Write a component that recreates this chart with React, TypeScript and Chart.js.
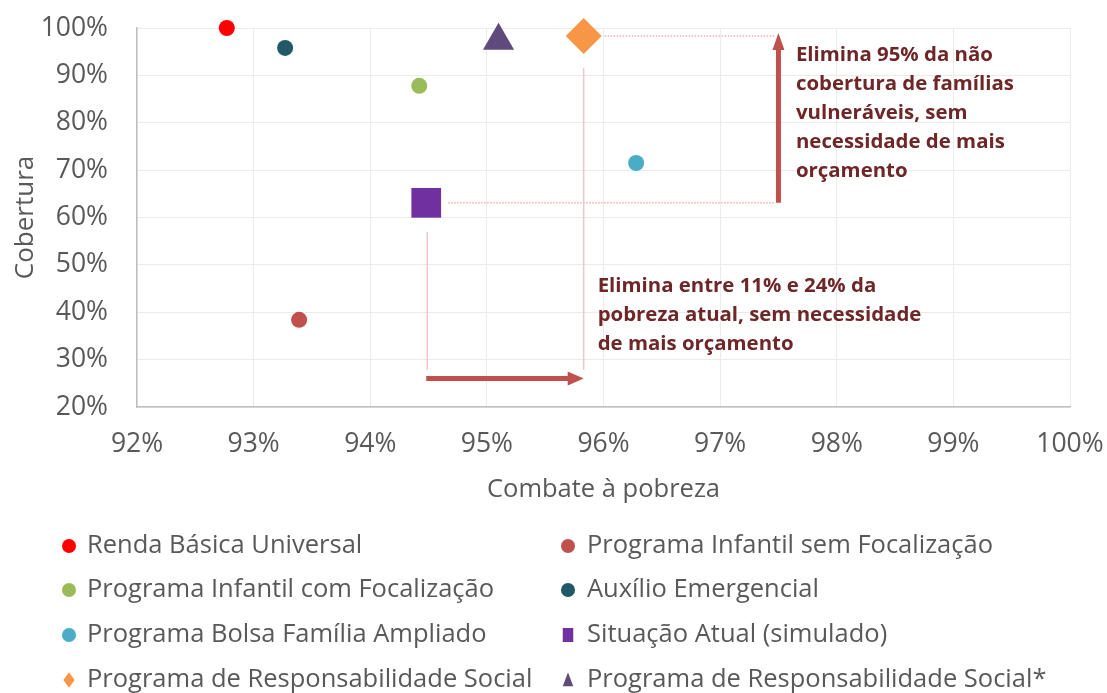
import React, { useEffect, useRef } from "react";
import { Chart, registerables } from "chart.js";

Chart.register(...registerables);

// ---------- data ----------
const SERIES_NAMES = [
  "Renda Básica Universal",
  "Programa Infantil sem Focalização",
  "Programa Infantil com Focalização",
  "Auxílio Emergencial",
  "Programa Bolsa Família Ampliado",
  "Situação Atual (simulado)",
  "Programa de Responsabilidade Social",
  "Programa de Responsabilidade Social*",
];
const COMBATE_POBREZA = [92.77, 93.39, 94.42, 93.27, 96.28, 94.48, 95.83, 95.1];
const COBERTURA = [100, 38.4, 87.8, 95.8, 71.5, 63.1, 98.3, 97.3];
const COLORS = ["#FF0000", "#C0504D", "#9BBB59", "#215968", "#4BACC6", "#7030A0", "#F79646", "#604A7B"];
const POINT_STYLES = ["circle", "circle", "circle", "circle", "circle", "rect", "rectRot", "triangle"];

const X_TICKS = [92, 93, 94, 95, 96, 97, 98, 99, 100];
const Y_TICKS = [20, 30, 40, 50, 60, 70, 80, 90, 100];
const X_TITLE = "Combate à pobreza";
const Y_TITLE = "Cobertura";

const NOTE_UP = ["Elimina 95% da não", "cobertura de famílias", "vulneráveis, sem", "necessidade de mais", "orçamento"];
const NOTE_RIGHT = ["Elimina entre 11% e 24% da", "pobreza atual, sem necessidade", "de mais orçamento"];
const BASE_INDEX = 5; // Situação Atual
const TARGET_INDEX = 6; // Programa de Responsabilidade Social
const ARROW_UP_X = 97.5;
const ARROW_RIGHT_Y = 26;
const GUIDE_BOTTOM_Y = 27.8;
const NOTE_UP_ANCHOR = [97.65, 94.3];
const NOTE_RIGHT_ANCHOR = [95.95, 45.6];

const FONT = "'Open Sans', 'Noto Sans', sans-serif";
const GRAY = "#595959";
const NOTE_COLOR = "#6E2627";

function markerPath(ctx: CanvasRenderingContext2D, style: string, x: number, y: number, r: number) {
  ctx.beginPath();
  if (style === "circle") {
    ctx.arc(x, y, r, 0, Math.PI * 2);
  } else if (style === "rect") {
    ctx.rect(x - r * 0.75, y - r, r * 1.5, r * 2);
  } else if (style === "rectRot") {
    ctx.moveTo(x, y - r * 1.1);
    ctx.lineTo(x + r * 0.8, y);
    ctx.lineTo(x, y + r * 1.1);
    ctx.lineTo(x - r * 0.8, y);
    ctx.closePath();
  } else if (style === "triangle") {
    ctx.moveTo(x, y - r * 1.1);
    ctx.lineTo(x + r * 0.75, y + r * 0.9);
    ctx.lineTo(x - r * 0.75, y + r * 0.9);
    ctx.closePath();
  }
}

const annotationPlugin = {
  id: "annotations",
  beforeDatasetsDraw(chart: any) {
    const { ctx, scales } = chart;
    const xs = scales.x;
    const ys = scales.y;
    const px = (v: number) => xs.getPixelForValue(v);
    const py = (v: number) => ys.getPixelForValue(v);
    const bx = px(COMBATE_POBREZA[BASE_INDEX]);
    const by = py(COBERTURA[BASE_INDEX]);
    const tx = px(COMBATE_POBREZA[TARGET_INDEX]);
    const ty = py(COBERTURA[TARGET_INDEX]);
    const ax = px(ARROW_UP_X);
    const ay = py(ARROW_RIGHT_Y);
    const gb = py(GUIDE_BOTTOM_Y);

    ctx.save();
    // dotted horizontal guides
    ctx.strokeStyle = "#F2AEB0";
    ctx.lineWidth = 1.5;
    ctx.setLineDash([1.5, 1.5]);
    ctx.beginPath();
    ctx.moveTo(bx + 22, by);
    ctx.lineTo(ax - 4, by);
    ctx.moveTo(tx + 21, ty);
    ctx.lineTo(ax - 4, ty);
    ctx.stroke();
    // solid vertical guides
    ctx.setLineDash([]);
    ctx.strokeStyle = "#F3C6C8";
    ctx.lineWidth = 1.5;
    ctx.beginPath();
    ctx.moveTo(tx, ty + 32);
    ctx.lineTo(tx, gb);
    ctx.moveTo(bx + 1, by + 29);
    ctx.lineTo(bx + 1, gb);
    ctx.stroke();

    // arrows
    ctx.strokeStyle = "#C0504D";
    ctx.fillStyle = "#C0504D";
    ctx.lineWidth = 5;
    // up arrow
    ctx.beginPath();
    ctx.moveTo(ax, by);
    ctx.lineTo(ax, ty + 12);
    ctx.stroke();
    ctx.beginPath();
    ctx.moveTo(ax, ty - 3);
    ctx.lineTo(ax + 6, ty + 14);
    ctx.lineTo(ax - 6, ty + 14);
    ctx.closePath();
    ctx.fill();
    // right arrow
    ctx.beginPath();
    ctx.moveTo(bx, ay);
    ctx.lineTo(tx - 12, ay);
    ctx.stroke();
    ctx.beginPath();
    ctx.moveTo(tx, ay);
    ctx.lineTo(tx - 16, ay - 7);
    ctx.lineTo(tx - 16, ay + 7);
    ctx.closePath();
    ctx.fill();

    // notes
    ctx.fillStyle = NOTE_COLOR;
    ctx.font = `bold 20.4px ${FONT}`;
    ctx.textBaseline = "middle";
    ctx.textAlign = "left";
    NOTE_UP.forEach((line, i) => {
      ctx.fillText(line, px(NOTE_UP_ANCHOR[0]), py(NOTE_UP_ANCHOR[1]) + i * 29);
    });
    NOTE_RIGHT.forEach((line, i) => {
      ctx.fillText(line, px(NOTE_RIGHT_ANCHOR[0]), py(NOTE_RIGHT_ANCHOR[1]) + i * 29);
    });
    ctx.restore();
  },
  afterDraw(chart: any) {
    const { ctx } = chart;
    ctx.save();
    ctx.font = `25.5px ${FONT}`;
    ctx.textBaseline = "middle";
    ctx.textAlign = "left";
    const colMarkerX = [69, 568];
    const colTextX = [87, 587];
    const rowY = [546, 590, 635, 680];
    chart.data.datasets.forEach((ds: any, i: number) => {
      const col = i % 2;
      const row = Math.floor(i / 2);
      const y = rowY[row];
      ctx.fillStyle = COLORS[i];
      markerPath(ctx, POINT_STYLES[i], colMarkerX[col], y, 7);
      ctx.fill();
      ctx.fillStyle = GRAY;
      ctx.fillText(ds.label, colTextX[col], y);
    });
    ctx.restore();
  },
};

export default function App() {
  const canvasRef = useRef<HTMLCanvasElement | null>(null);

  useEffect(() => {
    document.body.style.margin = "0";
    const canvas = canvasRef.current;
    if (!canvas) return;
    const datasets = SERIES_NAMES.map((name, i) => ({
      label: name,
      data: [{ x: COMBATE_POBREZA[i], y: COBERTURA[i] }],
      pointStyle: POINT_STYLES[i],
      pointRadius: POINT_STYLES[i] === "circle" ? 8 : POINT_STYLES[i] === "rect" ? 21 : 18,
      pointBackgroundColor: COLORS[i],
      pointBorderColor: COLORS[i],
      pointBorderWidth: 0,
      backgroundColor: COLORS[i],
      borderColor: COLORS[i],
      clip: false,
    }));
    const chart = new Chart(canvas, {
      type: "scatter",
      data: { datasets },
      plugins: [annotationPlugin],
      options: {
        animation: false,
        responsive: false,
        layout: { padding: { top: 28, right: 37, bottom: 188, left: 0 } },
        plugins: { legend: { display: false }, tooltip: { enabled: false } },
        scales: {
          x: {
            type: "linear",
            min: 92,
            max: 100,
            afterBuildTicks: (s: any) => {
              s.ticks = X_TICKS.map((v) => ({ value: v }));
            },
            afterFit: (s: any) => {
              s.height = 98;
              s.paddingLeft = 0;
              s.paddingRight = 0;
            },
            ticks: {
              padding: 22,
              color: GRAY,
              font: { family: FONT, size: 26.5 },
              callback: (v: any) => `${v}%`,
            },
            grid: { color: "#EBEBEB", lineWidth: 1, drawTicks: false },
            border: { color: "#BFBFBF", width: 1.5 },
            title: {
              display: true,
              text: X_TITLE,
              color: GRAY,
              font: { family: FONT, size: 25.5 },
              padding: 0,
            },
          },
          y: {
            type: "linear",
            min: 20,
            max: 100,
            afterBuildTicks: (s: any) => {
              s.ticks = Y_TICKS.map((v) => ({ value: v }));
            },
            afterFit: (s: any) => {
              s.width = 137;
              s.paddingTop = 0;
              s.paddingBottom = 0;
            },
            ticks: {
              padding: 29,
              color: GRAY,
              font: { family: FONT, size: 26.5 },
              callback: (v: any) => `${v}%`,
            },
            grid: { color: "#EBEBEB", lineWidth: 1, drawTicks: false },
            border: { color: "#BFBFBF", width: 1.5 },
            title: {
              display: true,
              text: Y_TITLE,
              color: GRAY,
              font: { family: FONT, size: 26 },
              padding: { top: 9.5, bottom: 0 },
            },
          },
        },
      },
    } as any);
    return () => chart.destroy();
  }, []);

  return (
    <div style={{ position: "absolute", left: 0, top: 0, width: 1107, height: 693 }}>
      <canvas ref={canvasRef} width={1107} height={693} />
    </div>
  );
}
